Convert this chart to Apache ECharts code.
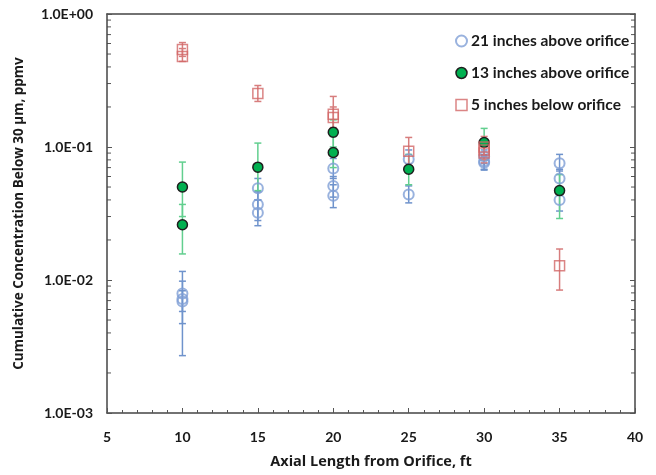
<!DOCTYPE html>
<html><head><meta charset="utf-8">
<script src="https://cdn.jsdelivr.net/npm/echarts@6/dist/echarts.min.js"></script>
<style>html,body{margin:0;padding:0;background:#fff}#c{width:656px;height:475px}</style>
</head><body><div id="c"></div>
<script>
// ---- data ----
const seriesNames = ['21 inches above orifice', '13 inches above orifice', '5 inches below orifice'];
// 21 inches above orifice: x, value, error low, error high
const blueX  = [10, 10, 10, 15, 15, 15, 20, 20, 20, 25, 25, 30, 30, 30, 35, 35, 35];
const blueY  = [0.0079, 0.0072, 0.0069, 0.049, 0.037, 0.032, 0.069, 0.051, 0.043, 0.081, 0.044, 0.085, 0.078, 0.076, 0.0755, 0.058, 0.040];
const blueLo = [0.0047, 0.0027, 0.0058, 0.040, 0.028, 0.0256, 0.058, 0.042, 0.035, 0.070, 0.038, 0.075, 0.068, 0.067, 0.066, 0.048, 0.033];
const blueHi = [0.0116, 0.0098, 0.0083, 0.058, 0.046, 0.040, 0.082, 0.060, 0.052, 0.095, 0.051, 0.095, 0.088, 0.086, 0.088, 0.068, 0.048];
// 13 inches above orifice
const greenX  = [10, 10, 15, 20, 20, 25, 30, 35];
const greenY  = [0.050, 0.026, 0.0705, 0.129, 0.091, 0.068, 0.108, 0.047];
const greenLo = [0.030, 0.0157, 0.047, 0.100, 0.070, 0.052, 0.080, 0.029];
const greenHi = [0.077, 0.037, 0.107, 0.160, 0.120, 0.088, 0.138, 0.062];
// 5 inches below orifice
const redX  = [10, 10, 15, 20, 20, 25, 30, 30, 30, 35];
const redY  = [0.54, 0.48, 0.252, 0.176, 0.167, 0.093, 0.100, 0.095, 0.090, 0.0128];
const redLo = [0.48, 0.44, 0.220, 0.140, 0.130, 0.075, 0.085, 0.080, 0.076, 0.0084];
const redHi = [0.61, 0.55, 0.290, 0.240, 0.200, 0.118, 0.120, 0.112, 0.108, 0.0171];
// y-axis minor tick values (log decades)
const yMinorTicks = [];
[0.001, 0.01, 0.1].forEach(d => { for (let m = 2; m <= 9; m++) yMinorTicks.push(+(m * d).toPrecision(3)); });

const xTitle = 'Axial Length from Orifice, ft';
const yTitle = 'Cumulative Concentration Below 30 μm, ppmv';
const xMin = 5, xMax = 40, xStep = 5;
const yMin = 0.001, yMax = 1;

const colors = {
  blue: '#7f9fd6', blueErr: '#6f93cc',
  green: '#00b050', greenEdge: '#1e1e1e', greenErr: '#62cf8f',
  red: '#d26666', redErr: '#d77d7d'
};
const fontFam = 'Lato';
const titleFam = '"Open Sans"';

function zip(xs, ys) { return xs.map((x, i) => [x, ys[i]]); }
function zip3(xs, lo, hi) { return xs.map((x, i) => [x, lo[i], hi[i]]); }

function errSeries(data, color) {
  return {
    type: 'custom', z: 1, silent: true,
    encode: { x: 0, y: [1, 2] },
    data: data,
    renderItem: function (params, api) {
      const x = api.value(0);
      const p1 = api.coord([x, api.value(1)]);
      const p2 = api.coord([x, api.value(2)]);
      const cw = 3.5;
      const st = { stroke: color, lineWidth: 1.5 };
      return { type: 'group', children: [
        { type: 'line', shape: { x1: p1[0], y1: p1[1], x2: p2[0], y2: p2[1] }, style: st },
        { type: 'line', shape: { x1: p1[0] - cw, y1: p1[1], x2: p1[0] + cw, y2: p1[1] }, style: st },
        { type: 'line', shape: { x1: p2[0] - cw, y1: p2[1], x2: p2[0] + cw, y2: p2[1] }, style: st }
      ]};
    }
  };
}

function fmtE(v) {
  const e = Math.round(Math.log10(v));
  const s = e < 0 ? '-' : '+';
  const a = Math.abs(e);
  return '1.0E' + s + (a < 10 ? '0' : '') + a;
}

const txt = (size, fam) => ({ fontFamily: fam || fontFam, fontWeight: 'bold', fontSize: size, color: '#1a1a1a' });
const axisLineStyle = { color: '#444', width: 1.5 };
const chart = echarts.init(document.getElementById('c'), null, { renderer: 'canvas' });
chart.setOption({
  animation: false,
  grid: { left: 107, right: 21, top: 14, bottom: 62, containLabel: false },
  legend: {
    orient: 'vertical', left: 450, top: 28, itemGap: 16, itemWidth: 11, itemHeight: 11,
    textStyle: Object.assign(txt(15.5), { padding: [0, 0, 0, -1] }),
    data: [
      { name: seriesNames[0], icon: 'circle', itemStyle: { color: '#fff', borderColor: colors.blue, borderWidth: 2 } },
      { name: seriesNames[1], icon: 'circle', itemStyle: { color: colors.green, borderColor: colors.greenEdge, borderWidth: 1.5 } },
      { name: seriesNames[2], icon: 'rect', itemStyle: { color: '#fff', borderColor: colors.red, borderWidth: 1.5 } }
    ]
  },
  xAxis: [{
    type: 'value', min: xMin, max: xMax, interval: xStep, position: 'bottom',
    name: xTitle, nameLocation: 'middle', nameGap: 41,
    nameTextStyle: txt(14.5, titleFam),
    axisLine: { lineStyle: axisLineStyle },
    axisTick: { inside: true, length: 5, lineStyle: { color: '#555' } },
    minorTick: { show: true, splitNumber: 5, length: 3, lineStyle: { color: '#555' } },
    axisLabel: Object.assign({ margin: 17 }, txt(14)),
    splitLine: { show: false }
  }, {
    type: 'value', min: xMin, max: xMax, interval: xStep, position: 'top',
    axisLine: { show: true, lineStyle: axisLineStyle },
    axisTick: { show: false },
    axisLabel: { show: false }, splitLine: { show: false }
  }],
  yAxis: [{
    type: 'log', logBase: 10, min: yMin, max: yMax, position: 'left',
    name: yTitle, nameLocation: 'middle', nameGap: 81,
    nameTextStyle: txt(13.5, titleFam),
    axisLine: { lineStyle: axisLineStyle },
    axisTick: { inside: true, length: 5, lineStyle: { color: '#555' } },
    axisLabel: Object.assign({ margin: 14, formatter: fmtE }, txt(14)),
    splitLine: { show: false }
  }, {
    type: 'log', logBase: 10, min: yMin, max: yMax, position: 'right',
    axisLine: { show: true, lineStyle: axisLineStyle },
    axisTick: { inside: true, length: 5, lineStyle: { color: '#555' } },
    axisLabel: { show: false }, splitLine: { show: false }
  }],
  series: [
    {
      type: 'custom', z: 0, silent: true,
      data: yMinorTicks.map(v => [xMin, v]),
      encode: { x: 0, y: 1 },
      renderItem: function (params, api) {
        const v = api.value(1);
        const pl = api.coord([xMin, v]);
        const pr = api.coord([xMax, v]);
        const st = { stroke: '#555', lineWidth: 1 };
        return { type: 'group', children: [
          { type: 'line', shape: { x1: pl[0], y1: pl[1], x2: pl[0] + 4, y2: pl[1] }, style: st },
          { type: 'line', shape: { x1: pr[0] - 4, y1: pr[1], x2: pr[0], y2: pr[1] }, style: st }
        ]};
      }
    },
    errSeries(zip3(blueX, blueLo, blueHi), colors.blueErr),
    errSeries(zip3(greenX, greenLo, greenHi), colors.greenErr),
    errSeries(zip3(redX, redLo, redHi), colors.redErr),
    {
      name: seriesNames[0], type: 'scatter', z: 3, symbol: 'circle', symbolSize: 10,
      itemStyle: { color: 'rgba(255,255,255,0)', borderColor: colors.blue, borderWidth: 2 },
      data: zip(blueX, blueY)
    },
    {
      name: seriesNames[1], type: 'scatter', z: 4, symbol: 'circle', symbolSize: 10,
      itemStyle: { color: colors.green, borderColor: colors.greenEdge, borderWidth: 1.5, opacity: 1 },
      data: zip(greenX, greenY)
    },
    {
      name: seriesNames[2], type: 'scatter', z: 5, symbol: 'rect', symbolSize: 10,
      itemStyle: { color: 'rgba(255,255,255,0)', borderColor: colors.red, borderWidth: 1.5 },
      data: zip(redX, redY)
    }
  ]
});
</script></body></html>
